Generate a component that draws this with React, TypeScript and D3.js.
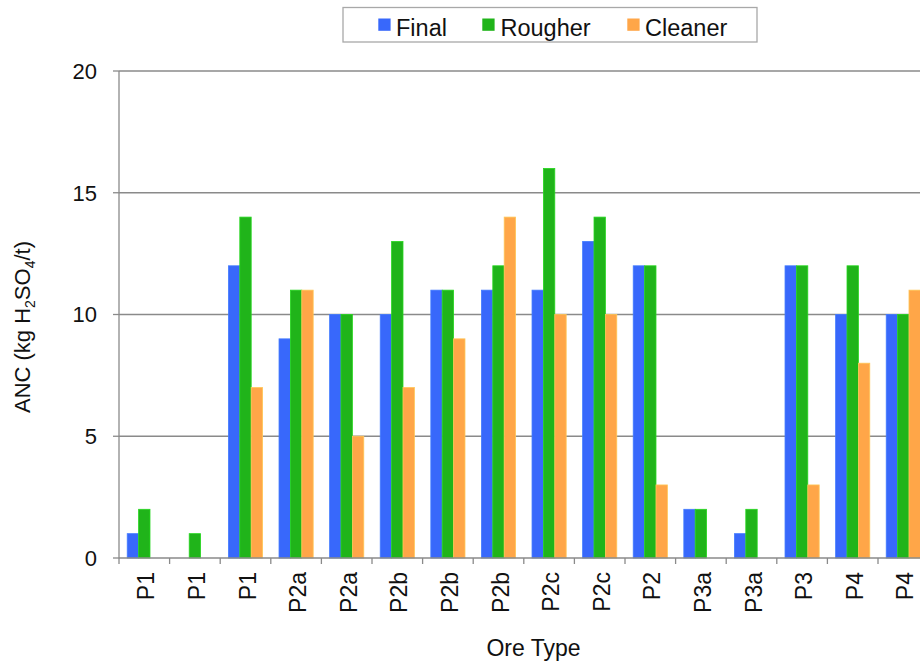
import React from "react";
import * as d3 from "d3";

const categories = ["P1", "P1", "P1", "P2a", "P2a", "P2b", "P2b", "P2b", "P2c", "P2c", "P2", "P3a", "P3a", "P3", "P4", "P4"];
const finalValues = [1, 0, 12, 9, 10, 10, 11, 11, 11, 13, 12, 2, 1, 12, 10, 10];
const rougherValues = [2, 1, 14, 11, 10, 13, 11, 12, 16, 14, 12, 2, 2, 12, 12, 10];
const cleanerValues = [0, 0, 7, 11, 5, 7, 9, 14, 10, 10, 3, 0, 0, 3, 8, 11];
const seriesNames = ["Final", "Rougher", "Cleaner"];
const seriesColors = ["#3868fb", "#20b41a", "#ffa648"];
const yTicks = [0, 5, 10, 15, 20];

const W = 920;
const H = 664;
const left = 119;
const top = 71;
const bottom = 558;
const bandW = 50.6;
const FONT = "'Liberation Sans', Arial, sans-serif";

export default function App() {
  const idx = categories.map((_, i) => String(i));
  const x = d3.scaleBand<string>().domain(idx).range([left, left + bandW * categories.length]).paddingInner(0).paddingOuter(0);
  const y = d3.scaleLinear().domain([0, 20]).range([bottom, top]);
  const bw = x.bandwidth();
  const barW = bw * 0.225;
  const inner = d3.scaleBand<string>().domain(seriesNames).range([(bw - 3 * barW) / 2, (bw + 3 * barW) / 2]);
  const series = [finalValues, rougherValues, cleanerValues];
  const axisColor = "#8a8a8a";

  return (
    <svg width={W} height={H} style={{ position: "absolute", left: 0, top: 0, background: "#fff" }} fontFamily={FONT}>
      <rect x={0} y={0} width={W} height={H} fill="#fff" />
      {yTicks.filter((t) => t > 0).map((t) => (
        <line key={t} x1={left} x2={W} y1={y(t)} y2={y(t)} stroke={axisColor} strokeWidth={1.3} />
      ))}
      {series.map((vals, s) =>
        vals.map((v, i) =>
          v > 0 ? (
            <rect
              key={`${s}-${i}`}
              x={(x(String(i)) as number) + (inner(seriesNames[s]) as number)}
              y={y(v)}
              width={inner.bandwidth()}
              height={y(0) - y(v)}
              fill={seriesColors[s]}
              stroke={d3.color(seriesColors[s])!.brighter(0.5).formatHex()}
              strokeWidth={0.8}
            />
          ) : null
        )
      )}
      <line x1={left} x2={left} y1={top} y2={bottom} stroke={axisColor} strokeWidth={1.3} />
      {yTicks.map((t) => (
        <g key={t}>
          <line x1={left - 6} x2={left} y1={y(t)} y2={y(t)} stroke={axisColor} strokeWidth={1.3} />
          <text x={97} y={y(t)} dy="0.36em" textAnchor="end" fontSize={22} fill="#111">
            {t}
          </text>
        </g>
      ))}
      <line x1={left} x2={W} y1={bottom} y2={bottom} stroke={axisColor} strokeWidth={1.3} />
      {d3.range(categories.length + 1).map((i) => (
        <line key={i} x1={left + i * bw} x2={left + i * bw} y1={bottom} y2={bottom + 6} stroke={axisColor} strokeWidth={1.3} />
      ))}
      {categories.map((c, i) => {
        const cx = (x(String(i)) as number) + bw / 2;
        return (
          <text key={i} transform={`translate(${cx},572) rotate(-90)`} textAnchor="end" dy="0.44em" fontSize={23} fill="#111">
            {c}
          </text>
        );
      })}
      <text x={533.5} y={656} textAnchor="middle" fontSize={23} fill="#111">
        Ore Type
      </text>
      <text transform={`translate(30,327) rotate(-90)`} textAnchor="middle" fontSize={22} fill="#111">
        ANC (kg H
        <tspan fontSize={14} dy={5}>2</tspan>
        <tspan dy={-5}>SO</tspan>
        <tspan fontSize={14} dy={5}>4</tspan>
        <tspan dy={-5}>/t)</tspan>
      </text>
      <rect x={343} y={7.5} width={414} height={34.5} fill="#fff" stroke="#a8a8a8" strokeWidth={1.3} />
      {[
        { sx: 378.3, tx: 396 },
        { sx: 482.3, tx: 500.5 },
        { sx: 627.3, tx: 645 },
      ].map((p, s) => (
        <g key={s}>
          <rect x={p.sx} y={18.5} width={12.3} height={12.3} fill={seriesColors[s]} />
          <text x={p.tx} y={36} fontSize={23.5} fill="#111">
            {seriesNames[s]}
          </text>
        </g>
      ))}
    </svg>
  );
}
